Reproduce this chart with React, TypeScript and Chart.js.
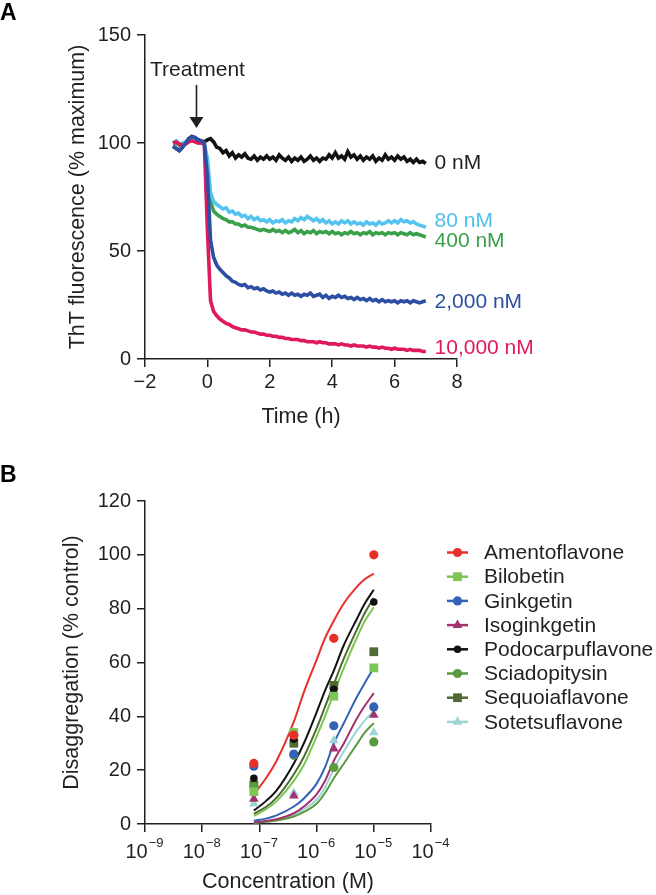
import React, { useEffect, useRef } from "react";
import { Chart, registerables } from "chart.js";

Chart.register(...registerables);

const FONT = '"Liberation Sans", Arial, Helvetica, sans-serif';
const INK = "#231f20";

// ---------------- Panel A data ----------------
const TIME_H = [
  -1.1, -1.0, -0.9, -0.8, -0.7, -0.6, -0.5, -0.4, -0.3, -0.2,
  -0.1, 0.0, 0.1, 0.2, 0.3, 0.4, 0.5, 0.6, 0.7, 0.8,
  0.9, 1.0, 1.1, 1.2, 1.3, 1.4, 1.5, 1.6, 1.7, 1.8,
  1.9, 2.0, 2.1, 2.2, 2.3, 2.4, 2.5, 2.6, 2.7, 2.8,
  2.9, 3.0, 3.1, 3.2, 3.3, 3.4, 3.5, 3.6, 3.7, 3.8,
  3.9, 4.0, 4.1, 4.2, 4.3, 4.4, 4.5, 4.6, 4.7, 4.8,
  4.9, 5.0, 5.1, 5.2, 5.3, 5.4, 5.5, 5.6, 5.7, 5.8,
  5.9, 6.0, 6.1, 6.2, 6.3, 6.4, 6.5, 6.6, 6.7, 6.8,
  6.9, 7.0,
];

const THT_0NM = [
  98.5, 97.5, 96.5, 98, 100, 102, 103, 102.5, 101.5, 101,
  100.5, 101.5, 102, 100.5, 98, 97.5, 95.5, 96.5, 94, 95.5,
  93, 94.5, 93.5, 95, 93, 92.5, 94, 92, 93.5, 92.5,
  94, 92.5, 93.5, 92, 94.5, 93, 92, 93.5, 91.5, 93,
  92, 93.5, 91.5, 92.5, 94, 92, 93, 91.5, 93, 92.5,
  94.5, 93, 95.5, 93, 94, 92.5, 96, 93.5, 94.5, 92.5,
  94, 92, 93.5, 92.5, 94, 91.5, 93, 92, 94.5, 92.5,
  93.5, 92, 94, 92.5, 93.5, 91.5, 92.5, 91, 92.5, 91,
  91.5, 90.5,
];

const THT_80NM = [
  100, 101, 99.5, 100, 100.5, 101, 101.5, 101, 100, 100,
  99.5, 93, 77, 73, 71.5, 70.5, 69.5, 70, 68, 68.5,
  67, 67.5, 66, 66.5, 65, 66, 64.5, 65.5, 64, 64.5,
  63.5, 64.5, 63, 64, 63.5, 64.5, 63, 64, 63.5, 65,
  64, 65.5, 64.5, 66, 65, 64, 65, 63.5, 64.5, 63,
  64, 62.5, 63.5, 62.5, 64, 63, 64, 62.5, 63.5, 62.5,
  63, 62, 63.5, 62.5, 63, 62, 63.5, 62.5, 63, 64,
  63, 64, 63, 64.5, 63.5, 64, 63, 63.5, 62.5, 62,
  61.5, 61,
];

const THT_400NM = [
  99.5, 100, 99, 99.5, 100, 101, 101.5, 101, 100, 100,
  99.5, 90, 73, 68.5, 67, 66, 65, 64.5, 63.5, 63.5,
  62.5, 62.5, 61.5, 62, 61, 61, 60.5, 60, 59.5, 60,
  59.5, 59, 60, 59, 59.5, 58.5, 59.5, 58.5, 59, 60,
  58.5, 59.5, 58, 59, 58.5, 59.5, 58, 59, 58.5, 59,
  58, 59, 58, 58.5, 57.5, 58.5, 58, 59, 58, 58.5,
  57.5, 58.5, 58, 59, 57.5, 58.5, 58, 58.5, 57.5, 58.5,
  58, 58.5, 57.5, 58.5, 58, 57.5, 58.5, 57.5, 58, 57.5,
  57, 56.5,
];

const THT_2000NM = [
  98.5, 97.5, 96.5, 98, 100, 102, 103, 102.5, 101.5, 101,
  100, 85, 55, 47, 43.5, 41.5, 40, 38.5, 37.5, 36,
  35.5, 34.5, 34, 34.5, 33, 33.5, 32.5, 33, 32, 32.5,
  31.5, 31, 31.5, 30.5, 31, 30, 30.5, 29.5, 30.5, 29.5,
  30, 29, 30, 29.5, 30.5, 29, 29.5, 30, 28.5, 29.5,
  28, 29, 28.5, 29.5, 28.5, 29, 28, 28.5, 27.5, 28.5,
  27.5, 28, 27, 28, 27, 27.5, 26.5, 27.5, 26.5, 27,
  26.5, 27, 26, 27, 26.5, 27, 26, 27, 26.5, 26,
  26.5, 27,
];

const THT_10000NM = [
  100, 100.5, 99.5, 99, 99.5, 100.5, 101, 100.5, 100, 100,
  100, 60, 27, 22, 20, 18.5, 17.5, 16.5, 16, 15,
  14.5, 14, 13.5, 13.5, 13, 12.5, 12.5, 12, 11.5, 11.5,
  11, 11, 10.5, 10.5, 10, 10, 9.5, 9.5, 9, 9,
  9, 8.5, 8.5, 8, 8, 8, 7.5, 8, 7.5, 7.5,
  7, 7, 7, 6.5, 7, 6.5, 6.5, 6, 6.5, 6,
  6, 6, 5.5, 6, 5.5, 5.5, 5, 5.5, 5, 5,
  4.5, 5, 4.5, 4.5, 4.5, 4, 4.5, 4, 4, 4,
  3.5, 3.5,
];

const A_X_TICKS = [-2, 0, 2, 4, 6, 8];
const A_Y_TICKS = [0, 50, 100, 150];

// ---------------- Panel B data ----------------
const POINT_CONC = [8e-8, 4e-7, 2e-6, 1e-5];
const CURVE_CONC = [8e-8, 1.3e-7, 2e-7, 4e-7, 6e-7, 1e-6, 1.4e-6, 2e-6, 3e-6, 5e-6, 7e-6, 1e-5];
const B_X_DECADES = [-9, -8, -7, -6, -5, -4];
const B_Y_TICKS = [0, 20, 40, 60, 80, 100, 120];

const AMENTO_PTS = [22.5, 33, 69, 100];
const BILOBETIN_PTS = [12, 34, 47.5, 58];
const GINKGETIN_PTS = [21.5, 26, 36.5, 43.5];
const ISOGINKGETIN_PTS = [9.3, 10.5, 28, 40.5];
const PODOCARPU_PTS = [17, 31.5, 50, 82.5];
const SCIADOPITYSIN_PTS = [14, 25.5, 21, 30.5];
const SEQUOIA_PTS = [14.5, 30, 51.5, 64];
const SOTETSU_PTS = [7.5, 11.5, 31, 34];

const AMENTO_FIT = [11, 17, 23.5, 38, 49, 61, 69, 75.5, 82, 88, 91, 93];
const BILOBETIN_FIT = [3, 5.5, 8.5, 16, 22, 32.5, 40, 48.5, 58, 69, 75.5, 80.5];
const GINKGETIN_FIT = [1.2, 2, 3.2, 6.5, 9.5, 15, 21, 30, 37.5, 47, 52.5, 58];
const ISOGINKGETIN_FIT = [0.6, 1.1, 1.8, 4, 6.5, 11, 16, 23.5, 30, 39, 44, 48.6];
const PODOCARPU_FIT = [5, 8.5, 12.5, 22.5, 30, 41.5, 49.5, 57, 66.5, 76, 82, 87];
const SCIADOPITYSIN_FIT = [0.4, 0.8, 1.3, 2.8, 4.5, 7.5, 11.5, 17, 22.5, 29.5, 34, 37.5];
const SEQUOIA_FIT = [3.8, 6.3, 9.8, 18.5, 25, 35.5, 43.5, 52, 61.5, 72, 78.5, 84];
const SOTETSU_FIT = [0.5, 1, 1.7, 3.5, 5.5, 9, 13.5, 20.5, 27, 34.5, 38.5, 42];

const COMPOUNDS = [
  { name: "Amentoflavone", pts: AMENTO_PTS, fit: AMENTO_FIT, color: "#e8302b", style: "circle", r: 4.6 },
  { name: "Bilobetin", pts: BILOBETIN_PTS, fit: BILOBETIN_FIT, color: "#7cc653", style: "rect", r: 6.2 },
  { name: "Ginkgetin", pts: GINKGETIN_PTS, fit: GINKGETIN_FIT, color: "#3462b5", style: "circle", r: 4.6 },
  { name: "Isoginkgetin", pts: ISOGINKGETIN_PTS, fit: ISOGINKGETIN_FIT, color: "#a3306f", style: "triangle", r: 5.6 },
  { name: "Podocarpuflavone", pts: PODOCARPU_PTS, fit: PODOCARPU_FIT, color: "#111111", style: "circle", r: 3.8 },
  { name: "Sciadopitysin", pts: SCIADOPITYSIN_PTS, fit: SCIADOPITYSIN_FIT, color: "#5b9a3f", style: "circle", r: 4.6 },
  { name: "Sequoiaflavone", pts: SEQUOIA_PTS, fit: SEQUOIA_FIT, color: "#4e6b34", style: "rect", r: 6.2 },
  { name: "Sotetsuflavone", pts: SOTETSU_PTS, fit: SOTETSU_FIT, color: "#9dd5d6", style: "triangle", r: 5.6 },
];

// ---------------- helpers ----------------
const fmtMinus = (v: number) => (v < 0 ? "\u2212" + Math.abs(v) : String(v));

function axisCommon(titleText: string, titlePad: any) {
  return {
    grid: { display: true, drawOnChartArea: false, drawTicks: true, tickLength: 8, color: INK, lineWidth: 1.5 },
    border: { display: true, color: INK, width: 1.5 },
    title: { display: true, text: titleText, color: INK, font: { family: FONT, size: 21.5 }, padding: titlePad },
  };
}

function drawMarker(ctx: CanvasRenderingContext2D, style: string, x: number, y: number, r: number) {
  ctx.beginPath();
  if (style === "circle") {
    ctx.arc(x, y, r, 0, Math.PI * 2);
  } else if (style === "rect") {
    const s = r * Math.SQRT1_2;
    ctx.rect(x - s, y - s, 2 * s, 2 * s);
  } else {
    const h = r * 1.5;
    const w = (r * Math.sqrt(3)) / 2;
    ctx.moveTo(x, y - r);
    ctx.lineTo(x + w, y + h - r);
    ctx.lineTo(x - w, y + h - r);
    ctx.closePath();
  }
  ctx.fill();
}

const panelAPlugin = {
  id: "panelA",
  afterDraw(chart: any) {
    const { ctx } = chart;
    const xs = chart.scales.x;
    const ys = chart.scales.y;
    ctx.save();
    const labels = [
      { text: "0 nM", v: 90.7, color: INK },
      { text: "80 nM", v: 64, color: "#4fc0ee" },
      { text: "400 nM", v: 54.7, color: "#3aa14a" },
      { text: "2,000 nM", v: 26.5, color: "#2c4fa3" },
      { text: "10,000 nM", v: 5.1, color: "#e0195c" },
    ];
    ctx.font = `21px ${FONT}`;
    ctx.textAlign = "left";
    ctx.textBaseline = "middle";
    const lx = xs.getPixelForValue(7.28);
    labels.forEach((l) => {
      ctx.fillStyle = l.color;
      ctx.fillText(l.text, lx, ys.getPixelForValue(l.v));
    });
    // treatment annotation
    const ax = xs.getPixelForValue(-0.35);
    const yTop = ys.getPixelForValue(126.9);
    const yTip = ys.getPixelForValue(106.9);
    ctx.strokeStyle = INK;
    ctx.fillStyle = INK;
    ctx.lineWidth = 1.6;
    ctx.beginPath();
    ctx.moveTo(ax, yTop);
    ctx.lineTo(ax, yTip - 8);
    ctx.stroke();
    ctx.beginPath();
    ctx.moveTo(ax - 7, yTip - 11);
    ctx.lineTo(ax + 7, yTip - 11);
    ctx.lineTo(ax, yTip);
    ctx.closePath();
    ctx.fill();
    ctx.font = `21px ${FONT}`;
    ctx.textAlign = "center";
    ctx.fillText("Treatment", ax + 1, ys.getPixelForValue(133.6));
    ctx.font = `bold 23px ${FONT}`;
    ctx.textAlign = "left";
    ctx.fillStyle = "#000";
    ctx.fillText("A", 0, 14);
    ctx.restore();
  },
};

const panelBPlugin = {
  id: "panelB",
  afterDraw(chart: any) {
    const { ctx } = chart;
    const xs = chart.scales.x;
    ctx.save();
    ctx.fillStyle = INK;
    ctx.textBaseline = "alphabetic";
    ctx.textAlign = "left";
    const baseY = xs.top + 34;
    B_X_DECADES.forEach((d) => {
      const px = xs.getPixelForValue(Math.pow(10, d));
      const sup = "\u2212" + Math.abs(d);
      ctx.font = `20px ${FONT}`;
      const w1 = ctx.measureText("10").width;
      ctx.font = `13px ${FONT}`;
      const w2 = ctx.measureText(sup).width;
      const x0 = px - (w1 + w2) / 2 - 1;
      ctx.font = `20px ${FONT}`;
      ctx.fillText("10", x0, baseY);
      ctx.font = `13px ${FONT}`;
      ctx.fillText(sup, x0 + w1 + 1, baseY - 11.5);
    });
    ctx.font = `21px ${FONT}`;
    ctx.textBaseline = "middle";
    COMPOUNDS.forEach((c, i) => {
      const y = 107.5 + i * 24.2;
      ctx.strokeStyle = c.color;
      ctx.fillStyle = c.color;
      ctx.lineWidth = 2.5;
      ctx.beginPath();
      ctx.moveTo(447, y);
      ctx.lineTo(468, y);
      ctx.stroke();
      drawMarker(ctx, c.style, 457.5, y, c.r);
      ctx.fillStyle = INK;
      ctx.fillText(c.name, 484, y + 1);
    });
    ctx.font = `bold 23px ${FONT}`;
    ctx.fillStyle = "#000";
    ctx.fillText("B", 0, 31);
    ctx.restore();
  },
};

export default function App() {
  const refA = useRef<HTMLCanvasElement>(null);
  const refB = useRef<HTMLCanvasElement>(null);

  useEffect(() => {
    const seriesA = [
      { label: "2,000 nM", values: THT_2000NM, color: "#2c4fa3" },
      { label: "10,000 nM", values: THT_10000NM, color: "#e0195c" },
      { label: "80 nM", values: THT_80NM, color: "#55c3f0" },
      { label: "400 nM", values: THT_400NM, color: "#3aa14a" },
      { label: "0 nM", values: THT_0NM, color: "#111111" },
    ];

    const chartA = new Chart(refA.current as HTMLCanvasElement, {
      type: "scatter",
      data: {
        datasets: seriesA.map((s) => ({
          label: s.label,
          data: TIME_H.map((t, i) => ({ x: t, y: s.values[i] })),
          showLine: true,
          borderColor: s.color,
          backgroundColor: s.color,
          borderWidth: 3.6,
          pointRadius: 0,
          tension: 0,
          fill: false,
        })),
      },
      options: {
        animation: false,
        responsive: false,
        devicePixelRatio: 1,
        layout: { padding: { top: 35, right: 199, left: 0, bottom: 0 } },
        plugins: { legend: { display: false }, tooltip: { enabled: false } },
        scales: {
          x: {
            type: "linear",
            min: -2,
            max: 8,
            afterBuildTicks: (s: any) => {
              s.ticks = A_X_TICKS.map((v) => ({ value: v }));
            },
            afterFit: (s: any) => {
              s.height = 86;
            },
            ticks: {
              color: INK,
              font: { family: FONT, size: 20 },
              padding: 3,
              autoSkip: false,
              maxRotation: 0,
              callback: (v: any) => fmtMinus(Number(v)),
            },
            ...axisCommon("Time (h)", { top: 0, bottom: 15 }),
          },
          y: {
            type: "linear",
            min: 0,
            max: 150,
            afterBuildTicks: (s: any) => {
              s.ticks = A_Y_TICKS.map((v) => ({ value: v }));
            },
            afterFit: (s: any) => {
              s.width = 145;
            },
            ticks: {
              color: INK,
              font: { family: FONT, size: 20 },
              padding: 6,
              callback: (v: any) => String(v),
            },
            ...axisCommon("ThT fluorescence (% maximum)", { top: 65, bottom: 0 }),
          },
        },
      } as any,
      plugins: [panelAPlugin],
    });

    const datasetsB: any[] = [];
    COMPOUNDS.forEach((c) => {
      datasetsB.push({
        label: c.name,
        data: POINT_CONC.map((x, i) => ({ x, y: c.pts[i] })),
        showLine: false,
        pointStyle: c.style,
        pointRadius: c.r,
        pointBackgroundColor: c.color,
        pointBorderColor: c.color,
        pointBorderWidth: 0,
        order: 1,
      });
      datasetsB.push({
        label: c.name + " fit",
        data: CURVE_CONC.map((x, i) => ({ x, y: c.fit[i] })),
        showLine: true,
        borderColor: c.color,
        borderWidth: 2,
        pointRadius: 0,
        cubicInterpolationMode: "monotone",
        fill: false,
        order: 2,
      });
    });

    const chartB = new Chart(refB.current as HTMLCanvasElement, {
      type: "scatter",
      data: { datasets: datasetsB },
      options: {
        animation: false,
        responsive: false,
        devicePixelRatio: 1,
        layout: { padding: { top: 56, right: 225, left: 0, bottom: 0 } },
        plugins: { legend: { display: false }, tooltip: { enabled: false } },
        scales: {
          x: {
            type: "logarithmic",
            min: 1e-9,
            max: 1e-4,
            afterBuildTicks: (s: any) => {
              s.ticks = B_X_DECADES.map((d) => ({ value: Math.pow(10, d) }));
            },
            afterFit: (s: any) => {
              s.height = 71;
            },
            ticks: { autoSkip: false, maxRotation: 0, callback: () => "" },
            ...axisCommon("Concentration (M)", { top: 0, bottom: 0 }),
          },
          y: {
            type: "linear",
            min: 0,
            max: 120,
            afterBuildTicks: (s: any) => {
              s.ticks = B_Y_TICKS.map((v) => ({ value: v }));
            },
            afterFit: (s: any) => {
              s.width = 145;
            },
            ticks: {
              color: INK,
              font: { family: FONT, size: 20 },
              padding: 6,
              callback: (v: any) => String(v),
            },
            ...axisCommon("Disaggregation (% control)", { top: 59, bottom: 0 }),
          },
        },
      } as any,
      plugins: [panelBPlugin],
    });

    return () => {
      chartA.destroy();
      chartB.destroy();
    };
  }, []);

  return (
    <div style={{ position: "fixed", left: 0, top: 0, width: 656, height: 895, background: "#fff" }}>
      <canvas ref={refA} width={656} height={445} style={{ position: "absolute", left: 0, top: 0 }} />
      <canvas ref={refB} width={656} height={450} style={{ position: "absolute", left: 0, top: 445 }} />
    </div>
  );
}
